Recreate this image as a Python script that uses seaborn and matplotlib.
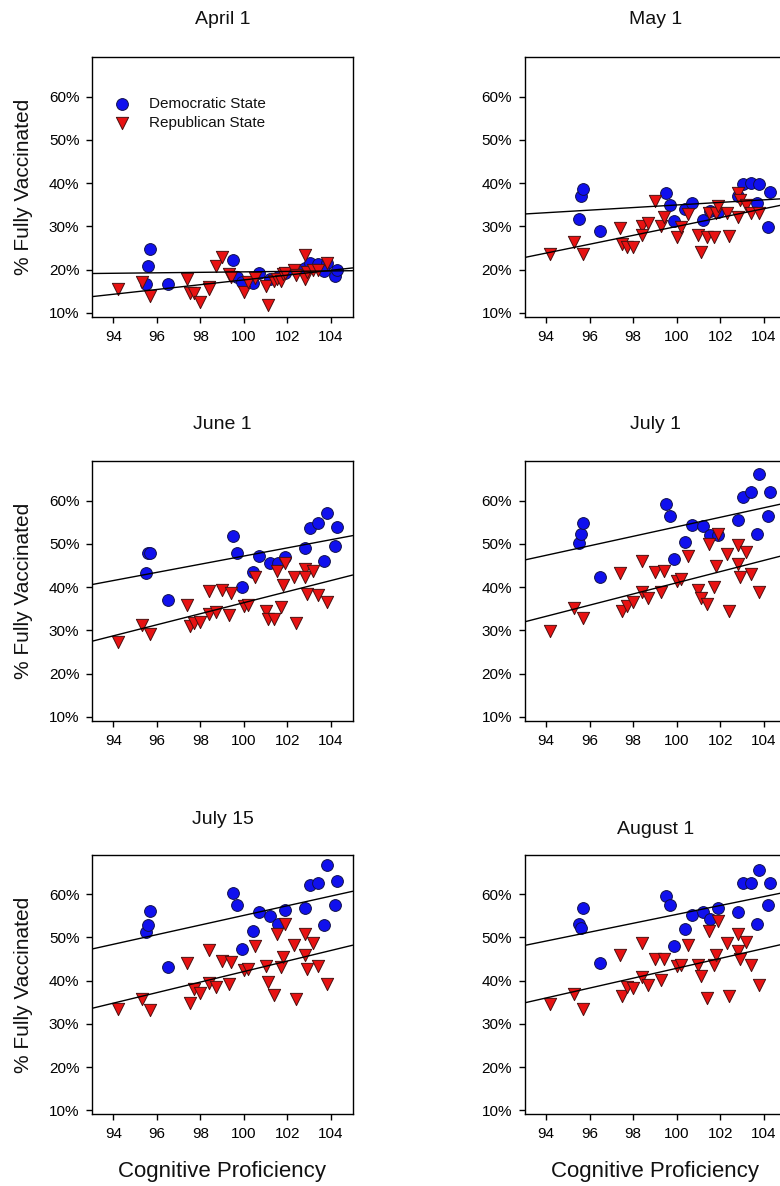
"""
Vaccination vs cognitive proficiency, six dates
"""
import matplotlib
matplotlib.use("Agg")
import matplotlib.pyplot as plt
from matplotlib.ticker import PercentFormatter
import seaborn as sns

# dates shown in the six panels
panels = ["April 1", "May 1", "June 1", "July 1", "July 15", "August 1"]

# cognitive proficiency of each state (same in every panel)
dem_x = [95.5, 95.6, 95.7, 96.5, 99.5, 99.7, 99.9, 100.4, 100.7, 101.2,
         101.55, 101.9, 102.8, 103.05, 103.4, 103.8, 103.7, 104.2, 104.3]
rep_x = [94.2, 95.3, 95.7, 97.4, 97.5, 97.7, 98.0, 98.4, 98.4, 98.7,
         99.0, 99.3, 99.4, 100.0, 100.2, 100.5, 101.0, 101.1, 101.4, 101.5,
         101.7, 101.8, 101.9, 102.3, 102.4, 102.8, 102.8, 102.9, 103.2, 103.4,
         103.8]

# % fully vaccinated, democratic states
dem_apr1 = [16.6, 20.9, 24.7, 16.6, 22.2, 18.3, 17.2, 17.0, 19.1, 17.7,
            18.2, 19.1, 20.3, 21.6, 21.3, 21.4, 19.7, 18.6, 20.0]
dem_may1 = [31.7, 36.9, 38.6, 28.9, 37.8, 34.9, 31.2, 33.9, 35.5, 31.5,
            33.6, 33.2, 36.9, 39.9, 40.1, 39.8, 35.5, 29.9, 37.9]
dem_jun1 = [43.3, 47.9, 47.9, 37.1, 51.9, 48.0, 40.1, 43.6, 47.1, 45.6,
            45.6, 47.0, 49.0, 53.7, 54.8, 57.1, 46.1, 49.6, 54.0]
dem_jul1 = [50.1, 52.3, 54.9, 42.3, 59.2, 56.5, 46.5, 50.4, 54.4, 54.1,
            52.1, 52.0, 55.5, 60.9, 61.9, 66.1, 52.2, 56.4, 62.1]
dem_jul15 = [51.3, 52.8, 56.1, 43.2, 60.3, 57.6, 47.4, 51.5, 55.8, 54.9,
             53.2, 56.3, 56.7, 62.1, 62.7, 66.7, 52.8, 57.5, 63.0]
dem_aug1 = [53.1, 52.1, 56.7, 44.1, 59.5, 57.5, 48.0, 51.9, 55.1, 55.8,
            54.2, 56.9, 55.9, 62.6, 62.6, 65.6, 53.2, 57.5, 62.7]

# % fully vaccinated, republican states
rep_apr1 = [15.6, 17.2, 13.9, 17.7, 14.6, 14.5, 12.5, 16.0, 15.5, 20.8,
            22.8, 19.0, 18.3, 14.9, 17.2, 18.0, 16.2, 11.8, 17.3, 17.7,
            17.4, 19.0, 19.3, 19.9, 18.7, 23.3, 17.7, 19.5, 20.0, 19.9,
            21.6]
rep_may1 = [23.5, 26.4, 23.5, 29.5, 26.0, 25.3, 25.1, 30.1, 28.1, 30.8,
            35.8, 30.1, 32.2, 27.6, 29.9, 32.8, 28.1, 24.1, 27.6, 33.0,
            27.6, 33.0, 34.7, 33.0, 27.8, 37.6, 32.2, 36.2, 34.9, 33.0,
            33.0]
rep_jun1 = [27.2, 31.2, 29.1, 35.8, 31.1, 31.7, 32.0, 39.2, 33.8, 34.3,
            39.4, 33.5, 38.6, 35.7, 35.9, 42.3, 34.5, 32.6, 32.6, 43.8,
            35.5, 40.5, 45.6, 42.3, 31.8, 44.3, 42.3, 38.4, 43.8, 38.2,
            36.5]
rep_jul1 = [29.8, 35.1, 32.8, 43.2, 34.5, 35.7, 36.6, 46.0, 38.9, 37.4,
            43.5, 38.8, 43.7, 41.4, 41.9, 47.2, 39.3, 37.4, 36.1, 49.9,
            40.0, 45.0, 52.3, 47.6, 34.5, 49.7, 45.3, 42.3, 48.1, 43.0,
            38.9]
rep_jul15 = [33.4, 35.8, 33.3, 44.1, 34.8, 38.0, 37.2, 47.2, 39.5, 38.5,
             44.6, 39.2, 44.3, 42.4, 42.6, 48.0, 43.4, 39.7, 36.6, 50.9,
             43.2, 45.5, 53.1, 48.3, 35.7, 50.7, 45.9, 42.6, 48.7, 43.4,
             39.3]
rep_aug1 = [34.5, 36.9, 33.4, 45.9, 36.4, 38.5, 38.2, 48.6, 40.9, 38.9,
            45.1, 40.1, 45.1, 43.4, 43.6, 48.2, 43.6, 41.1, 36.0, 51.5,
            43.6, 46.0, 53.8, 48.7, 36.5, 50.9, 46.9, 44.9, 49.0, 43.6,
            39.1]

dem_y = [dem_apr1, dem_may1, dem_jun1, dem_jul1, dem_jul15, dem_aug1]
rep_y = [rep_apr1, rep_may1, rep_jun1, rep_jul1, rep_jul15, rep_aug1]

sns.set_style("ticks")
plt.rcParams["font.family"] = ["Liberation Sans", "DejaVu Sans"]
plt.rcParams["axes.edgecolor"] = "black"
plt.rcParams["axes.linewidth"] = 1.0
plt.rcParams["xtick.color"] = "black"
plt.rcParams["ytick.color"] = "black"
plt.rcParams["text.color"] = "#111111"
plt.rcParams["axes.labelcolor"] = "#111111"

fig = plt.figure(figsize=(7.8, 11.86), dpi=100)

# axes boxes (figure fractions); right column runs off the page like the original
lefts = [0.1183, 0.6731]
bottoms = [0.7330, 0.3923, 0.0605]
w, h = 0.3338, 0.2187
title_pads = [24, 24, 23, 23, 22, 15]

for i, name in enumerate(panels):
    r, c = divmod(i, 2)
    ax = fig.add_axes([lefts[c], bottoms[r], w, h])
    ax.set_xlim(93.03, 105.0)
    ax.set_ylim(9.1, 69.1)

    sns.scatterplot(x=dem_x, y=dem_y[i], ax=ax, marker="o", s=72,
                    color="#1010ee", edgecolor="#10104a", linewidth=0.7,
                    label="Democratic State", legend=False, zorder=3)
    sns.scatterplot(x=rep_x, y=rep_y[i], ax=ax, marker="v", s=78,
                    color="#e81212", edgecolor="#4a1010", linewidth=0.7,
                    label="Republican State", legend=False, zorder=4)

    # least-squares lines stretched to the axis edges
    sns.regplot(x=dem_x, y=dem_y[i], ax=ax, scatter=False, ci=None,
                truncate=False, line_kws=dict(color="black", lw=1.0, zorder=5))
    sns.regplot(x=rep_x, y=rep_y[i], ax=ax, scatter=False, ci=None,
                truncate=False, line_kws=dict(color="black", lw=1.0, zorder=5))

    ax.set_xlim(93.03, 105.0)
    ax.set_ylim(9.1, 69.1)
    ax.set_xticks([94, 96, 98, 100, 102, 104])
    ax.set_yticks([10, 20, 30, 40, 50, 60])
    ax.yaxis.set_major_formatter(PercentFormatter(decimals=0))
    ax.tick_params(direction="out", length=4.3, width=1.0, labelsize=11, pad=5)
    for side in ["top", "right"]:
        ax.spines[side].set_visible(True)

    ax.set_title(name, fontsize=14, pad=title_pads[i])
    ax.set_xlabel("")
    ax.set_ylabel("")
    if c == 0:
        ax.set_ylabel("% Fully Vaccinated", fontsize=15, labelpad=11.5)
    if r == 2:
        ax.set_xlabel("Cognitive Proficiency", fontsize=16, labelpad=14)
    if i == 0:
        ax.legend(loc="upper left", bbox_to_anchor=(0.083, 0.845),
                  frameon=False, fontsize=11, borderpad=0, borderaxespad=0,
                  handlelength=1.0, handletextpad=1.3, labelspacing=0.32)

plt.savefig("out.png", dpi=100)
